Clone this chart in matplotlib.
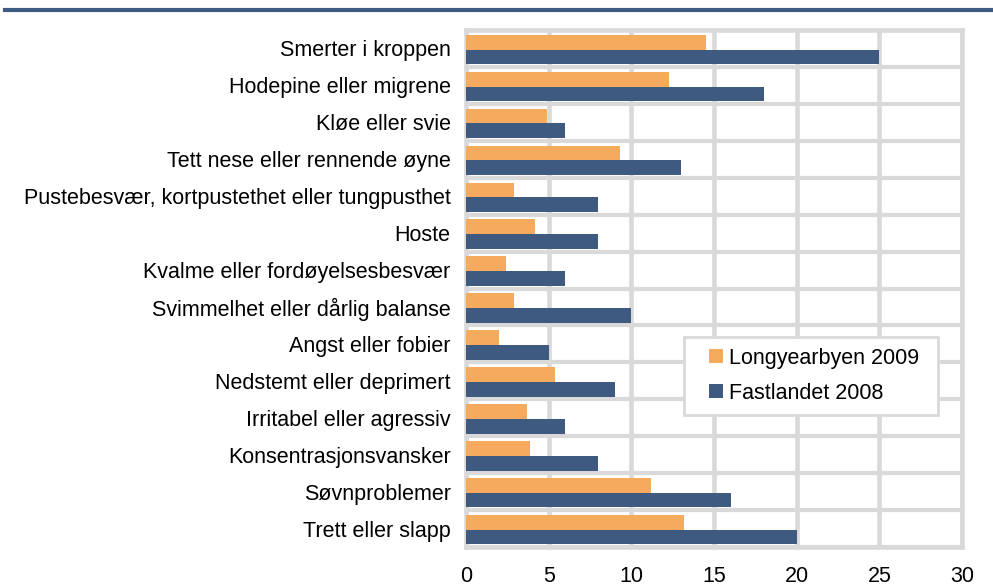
import matplotlib
matplotlib.use("Agg")
import matplotlib.pyplot as plt
from matplotlib.lines import Line2D
from matplotlib.patches import Rectangle
from matplotlib.legend_handler import HandlerPatch
from matplotlib.container import BarContainer
import numpy as np

plt.rcParams['font.family'] = ['Liberation Sans', 'DejaVu Sans']

categories = [
    "Smerter i kroppen",
    "Hodepine eller migrene",
    "Kløe eller svie",
    "Tett nese eller rennende øyne",
    "Pustebesvær, kortpustethet eller tungpusthet",
    "Hoste",
    "Kvalme eller fordøyelsesbesvær",
    "Svimmelhet eller dårlig balanse",
    "Angst eller fobier",
    "Nedstemt eller deprimert",
    "Irritabel eller agressiv",
    "Konsentrasjonsvansker",
    "Søvnproblemer",
    "Trett eller slapp",
]
longyearbyen_2009 = [14.5, 12.3, 4.9, 9.3, 2.9, 4.2, 2.4, 2.9, 2.0, 5.4, 3.7, 3.9, 11.2, 13.2]
fastlandet_2008 = [25, 18, 6, 13, 8, 8, 6, 10, 5, 9, 6, 8, 16, 20]
series_names = ["Longyearbyen 2009", "Fastlandet 2008"]
xticks = [0, 5, 10, 15, 20, 25, 30]

W, H = 993, 585
fig = plt.figure(figsize=(W / 100, H / 100), dpi=100)
ax = fig.add_axes([466 / W, 1 - 547 / H, (962 - 466) / W, (547 - 30) / H])

grid_c = "#d9d9d9"
orange = "#F6AA5E"
blue = "#3E5A80"
fs = 15.5

y = np.arange(len(categories))
bh = 0.40
ax.barh(y - bh / 2 + 0.03, longyearbyen_2009, height=bh, color=orange, label=series_names[0], zorder=3)
ax.barh(y + bh / 2 + 0.03, fastlandet_2008, height=bh, color=blue, label=series_names[1], zorder=3)

ax.set_xlim(0, 30)
ax.set_ylim(len(categories) - 0.5, -0.5)
ax.set_xticks(xticks)
ax.set_xticklabels([str(v) for v in xticks])
ax.set_yticks(y)
ax.set_yticklabels(categories)

# grid
for v in xticks:
    ax.axvline(v, color=grid_c, lw=3.3, zorder=1)
for b in np.arange(-0.5, len(categories) + 0.5, 1):
    ax.axhline(b, color=grid_c, lw=3.0, zorder=1)

for s in ax.spines.values():
    s.set_color(grid_c)
    s.set_linewidth(3.3)

ax.tick_params(axis='both', length=0, labelsize=fs)
ax.tick_params(axis='x', pad=13.5)
ax.tick_params(axis='y', pad=11)


def square_right(legend, orig_handle, xdescent, ydescent, width, height, fontsize):
    return Rectangle((-xdescent + width - height, -ydescent), height, height)


def from_first_child(legend_handle, orig_handle):
    legend_handle.set_facecolor(orig_handle.patches[0].get_facecolor())
    legend_handle.set_edgecolor('none')


leg = ax.legend(loc='upper left', bbox_to_anchor=(0.44, 0.255, 0.512, 0.151), mode='expand',
                fontsize=fs, frameon=True, fancybox=False, framealpha=1, edgecolor=grid_c,
                handlelength=1.31, handleheight=0.65, handletextpad=0.25,
                borderpad=0.5, labelspacing=0.65, borderaxespad=0,
                handler_map={BarContainer: HandlerPatch(patch_func=square_right,
                                                        update_func=from_first_child)})
leg.get_frame().set_linewidth(2)
leg.set_zorder(5)

fig.add_artist(Line2D([5 / W, 1], [1 - 9.5 / H, 1 - 9.5 / H], color=blue, lw=3,
                      transform=fig.transFigure))

fig.savefig("out.png", dpi=100)
